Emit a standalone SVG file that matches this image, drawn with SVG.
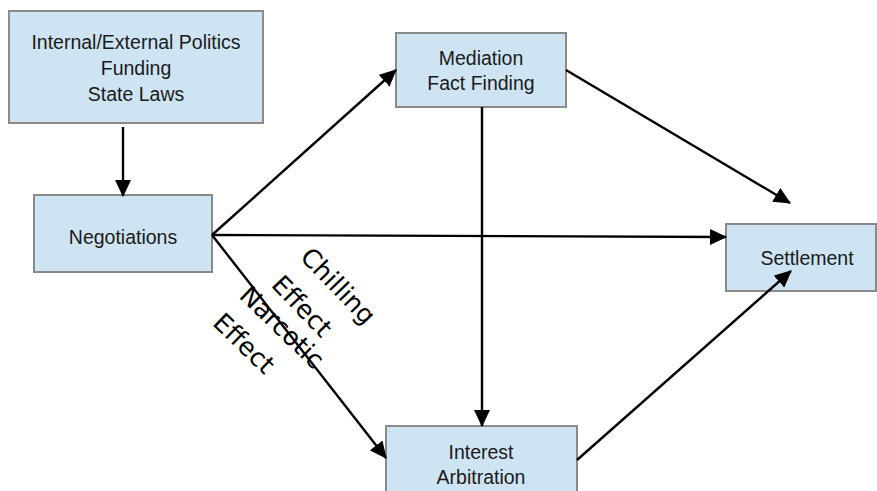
<svg xmlns="http://www.w3.org/2000/svg" width="877" height="491" viewBox="0 0 877 491">
<style>
.box{fill:#cfe4f3;stroke:#8a8a8a;stroke-width:2}
.t{font-family:"Liberation Sans",Arial,sans-serif;font-size:19.5px;fill:#1a1a1a;text-anchor:middle}
.c{stroke:#000;stroke-width:2.4;fill:none;marker-end:url(#ah)}
.r{font-family:"DejaVu Sans",sans-serif;font-size:25.5px;fill:#000}
</style>
<defs>
<marker id="ah" markerUnits="userSpaceOnUse" markerWidth="17" markerHeight="16" refX="16" refY="8" orient="auto" viewBox="0 0 17 16">
<path d="M0,0 L17,8 L0,16 z" fill="#000"/>
</marker>
</defs>
<g id="politics">
<rect class="box" x="9" y="11" width="254" height="112"/>
<text class="t" x="136" y="49">Internal/External Politics</text>
<text class="t" x="136" y="75">Funding</text>
<text class="t" x="136" y="101">State Laws</text>
</g>
<g id="negotiations">
<rect class="box" x="34" y="195" width="178" height="77"/>
<text class="t" x="123" y="244">Negotiations</text>
</g>
<g id="mediation">
<rect class="box" x="396" y="33" width="170" height="74"/>
<text class="t" x="481" y="65">Mediation</text>
<text class="t" x="481" y="90">Fact Finding</text>
</g>
<g id="settlement">
<rect class="box" x="726" y="224" width="150" height="67"/>
<text class="t" x="807" y="265">Settlement</text>
</g>
<g id="arbitration">
<rect class="box" x="386" y="426" width="191" height="80"/>
<text class="t" x="481" y="459">Interest</text>
<text class="t" x="481" y="484">Arbitration</text>
</g>
<g id="connectors">
<line class="c" x1="123" y1="127" x2="123" y2="196"/>
<line class="c" x1="212" y1="235" x2="396" y2="70"/>
<line class="c" x1="212" y1="235" x2="726" y2="237"/>
<line class="c" x1="212" y1="235" x2="386" y2="458"/>
<line class="c" x1="482" y1="107" x2="482" y2="426"/>
<line class="c" x1="566" y1="70" x2="790" y2="203"/>
<line class="c" x1="577" y1="460" x2="791" y2="271"/>
</g>
<g id="labels">
<text class="r" transform="translate(299,258) rotate(46)"><tspan x="0" y="0">Chilling</tspan><tspan x="0" y="40">Effect</tspan></text>
<text class="r" transform="translate(238,297) rotate(44)"><tspan x="0" y="0">Narcotic</tspan><tspan x="0" y="38">Effect</tspan></text>
</g>
</svg>
